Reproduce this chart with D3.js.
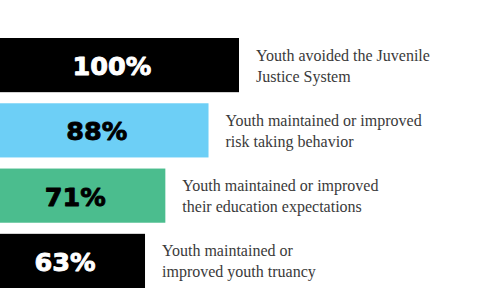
<!DOCTYPE html>
<html>
<head>
<meta charset="utf-8">
<script src="https://cdn.jsdelivr.net/npm/d3@7"></script>
<style>
  body { margin: 0; background: #fff; }
</style>
</head>
<body>
<div id="chart"></div>
<script>
// data
let values = [100, 88, 71, 63]
let labels = ["100%", "88%", "71%", "63%"]
let descriptions = [
  ["Youth avoided the Juvenile", "Justice System"],
  ["Youth maintained or improved", "risk taking behavior"],
  ["Youth maintained or improved", "their education expectations"],
  ["Youth maintained or", "improved youth truancy"]
]
let barColors = ["#000000", "#6dcff6", "#4bbd8e", "#000000"]
let labelColors = ["#ffffff", "#000000", "#000000", "#ffffff"]

let svg = d3.select("#chart").append("svg")
  .attr("width", 491)
  .attr("height", 307)

// bars start a bit off canvas on the left
let xScale = d3.scaleLinear().domain([0, 100]).range([-15, 239])
let yScale = d3.scaleBand()
  .domain(d3.range(values.length))
  .range([38, 288])
  .paddingInner(0.17)
  .paddingOuter(0)

let bh = yScale.bandwidth()

let rows = svg.selectAll("g.row")
  .data(values)
  .enter()
  .append("g")
  .attr("class", "row")
  .attr("transform", (d, i) => `translate(0,${yScale(i)})`)

rows.append("rect")
  .attr("x", xScale(0))
  .attr("y", 0)
  .attr("width", d => xScale(d) - xScale(0))
  .attr("height", bh)
  .attr("fill", (d, i) => barColors[i])

// big percentage, slightly thickened to look heavier
rows.append("text")
  .attr("x", d => (xScale(0) + xScale(d)) / 2)
  .attr("y", bh / 2 + 10)
  .attr("text-anchor", "middle")
  .attr("font-family", "DejaVu Sans")
  .attr("font-weight", "bold")
  .attr("font-size", 25.5)
  .attr("fill", (d, i) => labelColors[i])
  .attr("stroke", (d, i) => labelColors[i])
  .attr("stroke-width", 0.9)
  .attr("stroke-linejoin", "round")
  .text((d, i) => labels[i])

let desc = rows.append("text")
  .attr("x", d => xScale(d) + 17)
  .attr("y", bh / 2 - 4.5)
  .attr("font-family", "Liberation Serif")
  .attr("font-size", 16)
  .attr("fill", "#3a3a3a")

desc.selectAll("tspan")
  .data((d, i) => descriptions[i])
  .enter()
  .append("tspan")
  .attr("x", function() { return d3.select(this.parentNode).attr("x") })
  .attr("dy", (d, j) => j === 0 ? 0 : 21)
  .text(d => d)
</script>
</body>
</html>
